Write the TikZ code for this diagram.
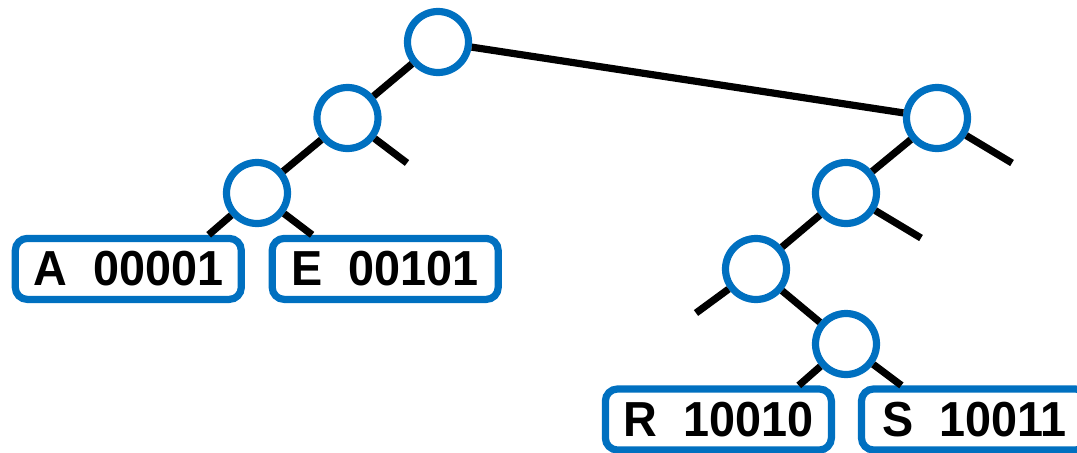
\documentclass[tikz,border=0pt]{standalone}
\usepackage{fontspec}
\setmainfont{Liberation Sans}
\newfontfamily\leaffont[FakeStretch=0.95]{Liberation Sans}
\usepackage{tikz}
\usetikzlibrary{calc,positioning}
\definecolor{nodeblue}{RGB}{0,112,192}

\begin{document}
\begin{tikzpicture}[x=0.5pt,y=0.5pt, line width=3.6pt,
    nd/.style={draw=nodeblue,fill=white,circle,inner sep=0pt,minimum size=30.5pt},
    leaf/.style={draw=nodeblue,fill=white,rounded corners=6pt,inner sep=0pt,minimum width=113pt,minimum height=30.5pt,font=\leaffont\fontsize{24.6}{28}\selectfont\bfseries}]
            \useasboundingbox (0,0) rectangle (1077,452);

            \node[nd] (t0) at (438,410) {};
            \node[nd] (l1) at (347.5,334) {};
            \node[nd] (l2) at (257,259) {};
            \node[nd] (r1) at (937,334) {};
            \node[nd] (r2) at (846,259) {};
            \node[nd] (r3) at (756,183) {};
            \node[nd] (r4) at (846,108) {};

            \node[leaf] (ka) at (128.3,183.1) {A~~00001};
            \node[leaf] (ke) at (385.2,183.1) {E~~00101};
            \node[leaf] (kr) at (718.4,32.5) {R~~10010};
            \node[leaf] (ks) at (974.5,32.5) {S~~10011};

            \coordinate (l1x) at (407,289);
            \coordinate (r1x) at (1012,289);
            \coordinate (r2x) at (921,214);
            \coordinate (r3x) at (696,139);

            \draw (t0) -- (l1);
            \draw (l1) -- (l2);
            \draw (l1) -- (l1x);
            \draw (l2) -- (ka.23);
            \draw (l2) -- (ke.155);
            \draw (t0) -- (r1);
            \draw (r1) -- (r2);
            \draw (r1) -- (r1x);
            \draw (r2) -- (r3);
            \draw (r2) -- (r2x);
            \draw (r3) -- (r3x);
            \draw (r3) -- (r4);
            \draw (r4) -- (kr.23);
            \draw (r4) -- (ks.155);
          \end{tikzpicture}
\end{document}
